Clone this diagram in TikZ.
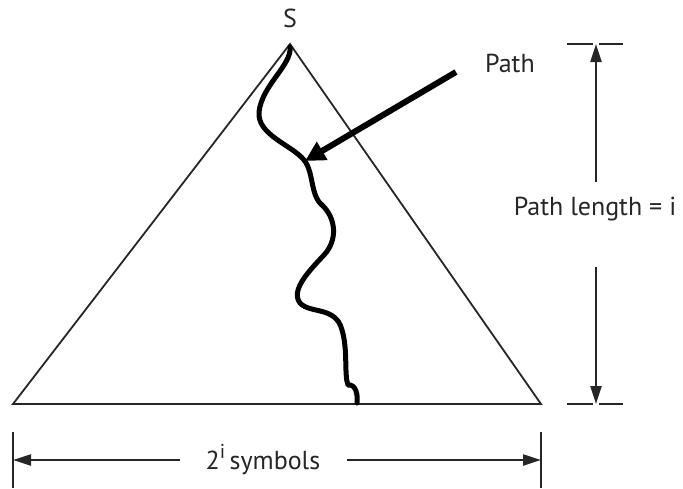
\documentclass[tikz,border=0pt]{standalone}
\usepackage{fontspec}
\setmainfont{PT Sans}
\usetikzlibrary{arrows.meta}
\begin{document}
\begin{tikzpicture}[x=1pt,y=-1pt,
  lbl/.style={font=\fontsize{26}{30}\selectfont, inner sep=1pt, text=black!85},
  tri/.style={line width=1.8pt, black!85},
  dimline/.style={line width=2.2pt, black!85, -{Triangle[length=18pt,width=11pt]}},
  tick/.style={line width=2.2pt, black!85},
  pathcurve/.style={line width=5pt, line cap=round, line join=round},
  pointer/.style={line width=6pt, -{Triangle[length=20pt,width=20pt]}}]
\useasboundingbox (0,0) rectangle (683,488);
% triangle
\coordinate (apex) at (290,44);
\coordinate (bl) at (13,404);
\coordinate (br) at (541,404);
\draw[tri, line join=miter] (apex) -- (bl) -- (br) -- cycle;
\node[lbl] (s) at (290,18) {S};
% wiggly path
\coordinate (p0) at (290,47);
\coordinate (pe) at (357,403);
\draw[pathcurve] (p0) .. controls (292,65) and (262,85) .. (259,112)
  .. controls (257,135) and (292,145) .. (304,160)
  .. controls (314,172) and (310,195) .. (322,205)
  .. controls (336,218) and (338,240) .. (324,255)
  .. controls (310,270) and (290,290) .. (300,303)
  .. controls (310,314) and (336,306) .. (342,330)
  .. controls (348,350) and (344,375) .. (348,385)
  .. controls (356,384) and (358,395) .. (pe);
% pointer
\node[lbl, anchor=base west] (pathlbl) at (484,72) {Path};
\coordinate (ptail) at (456,72);
\coordinate (phead) at (305,161);
\draw[pointer] (ptail) -- (phead);
% right dimension
\coordinate (rt) at (596,44);
\coordinate (rb) at (596,404);
\draw[tick] (567,44) -- (593,44) (599,44) -- (623,44);
\draw[tick] (567,404) -- (593,404) (599,404) -- (623,404);
\node[lbl, anchor=base] (plen) at (595,215) {Path length = i};
\draw[dimline] (596,182) -- (rt);
\draw[dimline] (596,267) -- (rb);
% bottom dimension
\draw[tick] (13,432) -- (13,488);
\draw[tick] (541,432) -- (541,488);
\node[lbl] (sym) at (263,460) {2\raisebox{0.42em}{\fontsize{20}{22}\selectfont i}\,symbols};
\draw[dimline] (180,460) -- (13,460);
\draw[dimline] (347,460) -- (541,460);
\end{tikzpicture}
\end{document}
